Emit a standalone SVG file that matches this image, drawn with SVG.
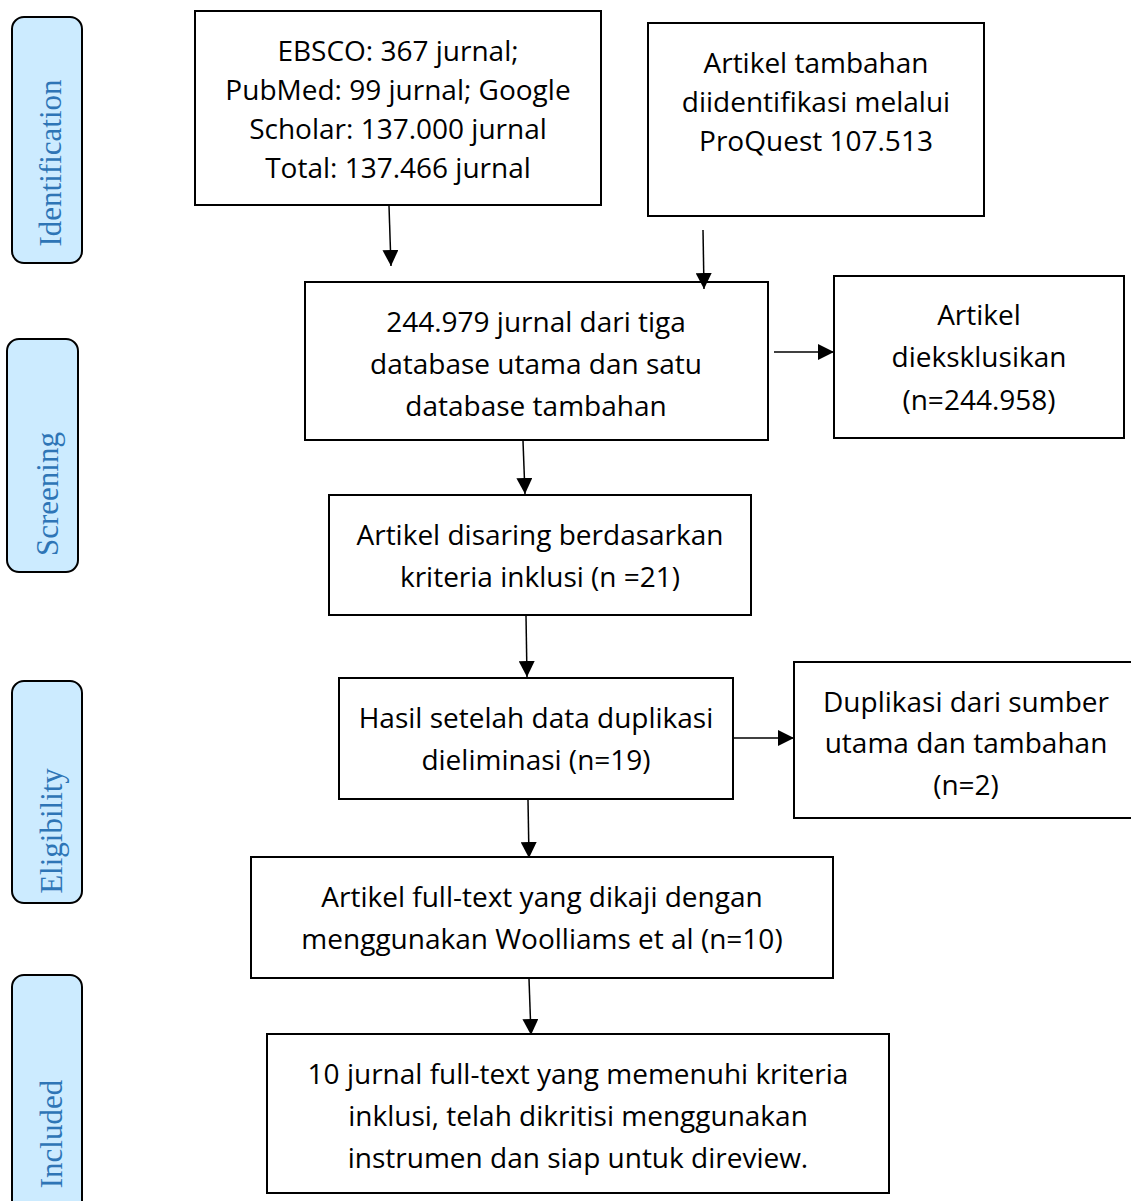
<svg xmlns="http://www.w3.org/2000/svg" width="1131" height="1201" viewBox="0 0 1131 1201">
<style>
.box{fill:#fff;stroke:#000;stroke-width:2}
.side{fill:#CCEBFF;stroke:#000;stroke-width:2}
.t{font-family:"Open Sans","Liberation Sans",sans-serif;font-size:28px;fill:#000;text-anchor:middle}
.s{font-family:"Liberation Serif","DejaVu Serif",serif;font-size:31px;fill:#2E75B6;text-anchor:middle}
.c{stroke:#000;stroke-width:1.5;fill:none;marker-end:url(#ah)}
</style>
<defs>
<marker id="ah" markerWidth="16" markerHeight="16" refX="16" refY="8" orient="auto" markerUnits="userSpaceOnUse">
<path d="M0,0 L16,8 L0,16 Z" fill="#000"/>
</marker>
</defs>
<rect width="1131" height="1201" fill="#fff"/>
<g id="side-identification"><rect class="side" x="12" y="17" width="70" height="246" rx="12"/><text class="s" transform="translate(61,163) rotate(-90)">Identification</text></g>
<g id="side-screening"><rect class="side" x="7" y="339" width="71" height="233" rx="12"/><text class="s" transform="translate(58,494) rotate(-90)">Screening</text></g>
<g id="side-eligibility"><rect class="side" x="12" y="681" width="70" height="222" rx="12"/><text class="s" transform="translate(62,831) rotate(-90)">Eligibility</text></g>
<g id="side-included"><rect class="side" x="12" y="975" width="70" height="240" rx="12"/><text class="s" transform="translate(62,1134) rotate(-90)">Included</text></g>

<g id="n1"><rect class="box" x="195" y="11" width="406" height="194"/>
<text class="t" x="398" y="61">EBSCO: 367 jurnal;</text>
<text class="t" x="398" y="100">PubMed: 99 jurnal; Google</text>
<text class="t" x="398" y="139">Scholar: 137.000 jurnal</text>
<text class="t" x="398" y="178">Total: 137.466 jurnal</text></g>
<g id="n2"><rect class="box" x="648" y="23" width="336" height="193"/>
<text class="t" x="816" y="73">Artikel tambahan</text>
<text class="t" x="816" y="112">diidentifikasi melalui</text>
<text class="t" x="816" y="151">ProQuest 107.513</text></g>
<g id="n3"><rect class="box" x="305" y="282" width="463" height="158"/>
<text class="t" x="536" y="332">244.979 jurnal dari tiga</text>
<text class="t" x="536" y="374">database utama dan satu</text>
<text class="t" x="536" y="416">database tambahan</text></g>
<g id="n4"><rect class="box" x="834" y="276" width="290" height="162"/>
<text class="t" x="979" y="325">Artikel</text>
<text class="t" x="979" y="367">dieksklusikan</text>
<text class="t" x="979" y="410">(n=244.958)</text></g>
<g id="n5"><rect class="box" x="329" y="495" width="422" height="120"/>
<text class="t" x="540" y="545">Artikel disaring berdasarkan</text>
<text class="t" x="540" y="587">kriteria inklusi (n =21)</text></g>
<g id="n6"><rect class="box" x="339" y="678" width="394" height="121"/>
<text class="t" x="536" y="728">Hasil setelah data duplikasi</text>
<text class="t" x="536" y="770">dieliminasi (n=19)</text></g>
<g id="n7"><rect class="box" x="794" y="662" width="345" height="156"/>
<text class="t" x="966" y="712">Duplikasi dari sumber</text>
<text class="t" x="966" y="753">utama dan tambahan</text>
<text class="t" x="966" y="795">(n=2)</text></g>
<g id="n8"><rect class="box" x="251" y="857" width="582" height="121"/>
<text class="t" x="542" y="907">Artikel full-text yang dikaji dengan</text>
<text class="t" x="542" y="949">menggunakan Woolliams et al (n=10)</text></g>
<g id="n9"><rect class="box" x="267" y="1034" width="622" height="159"/>
<text class="t" x="578" y="1084">10 jurnal full-text yang memenuhi kriteria</text>
<text class="t" x="578" y="1126">inklusi, telah dikritisi menggunakan</text>
<text class="t" x="578" y="1168">instrumen dan siap untuk direview.</text></g>

<g id="connectors">
<line class="c" x1="389" y1="206" x2="391" y2="266"/>
<line class="c" x1="703" y1="230" x2="704" y2="289"/>
<line class="c" x1="774" y1="352" x2="834" y2="352"/>
<line class="c" x1="523" y1="441" x2="525" y2="494"/>
<line class="c" x1="526" y1="616" x2="527" y2="677"/>
<line class="c" x1="733" y1="738" x2="794" y2="738"/>
<line class="c" x1="528" y1="800" x2="529" y2="858"/>
<line class="c" x1="529" y1="979" x2="531" y2="1035"/>
</g>
</svg>
